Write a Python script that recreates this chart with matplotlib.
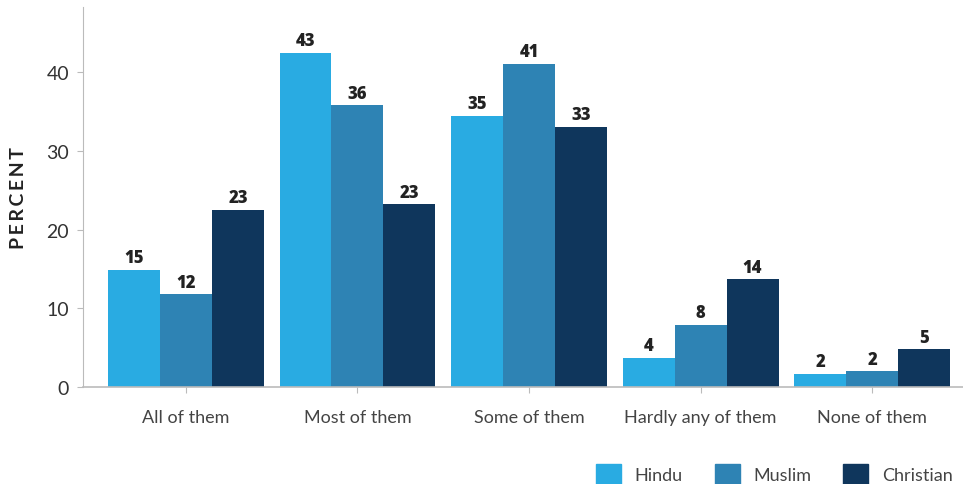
import matplotlib.pyplot as plt
from matplotlib.patches import Patch
import numpy as np

categorias = ["All of them", "Most of them", "Some of them", "Hardly any of them", "None of them"]
grupos = ["Hindu", "Muslim", "Christian"]
hindu = [14.9, 42.5, 34.5, 3.7, 1.7]
muslim = [11.8, 35.8, 41.1, 7.9, 2.0]
christian = [22.5, 23.2, 33.1, 13.7, 4.8]
cores = ["#29abe2", "#2e83b4", "#0f365c"]

fig = plt.figure(figsize=(9.63, 4.85), dpi=100)
ax = fig.add_axes([0.0862, 0.2, 0.9138, 0.7835])

x = np.arange(len(categorias))
largura = 0.303
for i, (serie, cor) in enumerate(zip([hindu, muslim, christian], cores)):
    pos = x + (i - 1) * largura
    ax.bar(pos, serie, largura, color=cor)
    for px, v in zip(pos, serie):
        # arredonda meio pra cima
        ax.text(px, v + 0.45, str(int(np.floor(v + 0.5))), ha="center", va="bottom",
                fontsize=12, fontweight="heavy", color="#222222", family="Open Sans")

ax.set_xlim(-0.6, 4.53)
ax.set_ylim(0, 48.3)
ax.set_yticks([0, 10, 20, 30, 40])
ax.set_xticks(x)
ax.set_xticklabels(categorias, fontsize=13, color="#444444", family="Lato")
for lbl in ax.get_yticklabels():
    lbl.set_family("Lato")
ax.tick_params(axis="y", labelsize=14, colors="#bbbbbb", labelcolor="#333333", length=4, pad=6)
ax.tick_params(axis="x", colors="#bbbbbb", labelcolor="#444444", length=4, pad=12)
ax.set_ylabel("\u2009".join("PERCENT"), fontsize=14, fontweight="bold", color="#222222",
              family="Lato", labelpad=14)

for lado in ["top", "right"]:
    ax.spines[lado].set_visible(False)
ax.spines["left"].set_color("#bbbbbb")
ax.spines["bottom"].set_color("#bbbbbb")
ax.spines["bottom"].set_linewidth(1.2)

handles = [Patch(color=c, label=g) for g, c in zip(grupos, cores)]
fig.legend(handles=handles, loc="lower right", bbox_to_anchor=(1.006, -0.035), ncol=3,
           frameon=False, prop={"family": "Lato", "size": 13}, handlelength=1.4,
           handleheight=1.4, handletextpad=0.75, columnspacing=1.75, labelcolor="#444444")

fig.savefig("out.png", dpi=100)
